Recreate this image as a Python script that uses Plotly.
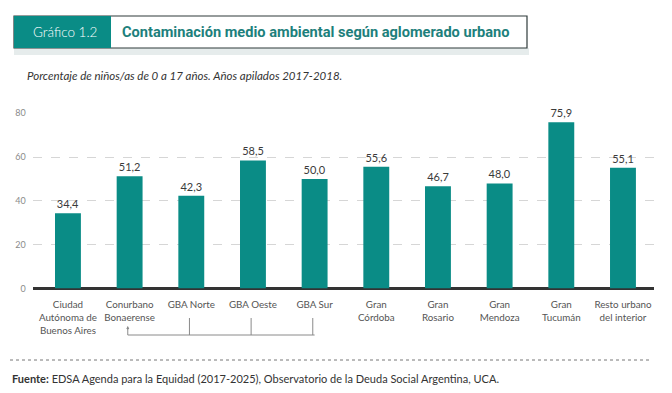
import plotly.graph_objects as go

categories = ["Ciudad<br>Autónoma de<br>Buenos Aires", "Conurbano<br>Bonaerense", "GBA Norte",
              "GBA Oeste", "GBA Sur", "Gran<br>Córdoba", "Gran<br>Rosario", "Gran<br>Mendoza",
              "Gran<br>Tucumán", "Resto urbano<br>del interior"]
values = [34.4, 51.2, 42.3, 58.5, 50.0, 55.6, 46.7, 48.0, 75.9, 55.1]
y_ticks = [0, 20, 40, 60, 80]

W, H = 672, 393
TEAL = "#0a8c86"

def px(x):
    return x / W

def py(y):
    return 1 - y / H

fig = go.Figure()
fig.add_trace(go.Bar(
    x=list(range(len(categories))), y=values, width=0.42,
    marker=dict(color=TEAL, line=dict(width=0)),
    texttemplate="%{y:.1f}", textposition="outside",
    textfont=dict(family="Lato", size=11, color="#3a3a3a"),
    cliponaxis=False, hoverinfo="skip",
))

fig.update_layout(
    width=W, height=H,
    margin=dict(l=0, r=0, t=0, b=0),
    paper_bgcolor="white", plot_bgcolor="white",
    separators=",.",
    showlegend=False,
    bargap=0.5,
    xaxis=dict(
        domain=[px(32.8), px(653.8)], range=[-0.57, 9.5],
        tickmode="array", tickvals=list(range(len(categories))), ticktext=categories,
        tickfont=dict(family="Lato", size=9.8, color="#555555"),
        showgrid=False, zeroline=False, showline=False, ticks="", automargin=False,
        ticklabelstandoff=9, fixedrange=True,
    ),
    yaxis=dict(
        domain=[py(288.5), py(113.3)], range=[0, 80],
        tickmode="array", tickvals=y_ticks,
        tickfont=dict(family="Lato", size=9, color="#8a8a8a"),
        showgrid=True, gridcolor="#d6d6d6", griddash="dash", gridwidth=1,
        zeroline=True, zerolinecolor="#333333", zerolinewidth=3,
        showline=False, ticks="", automargin=False, ticklabelstandoff=6,
        fixedrange=True,
    ),
)

HX0, HX1, HTEAL = 14, 527, 111
HY0, HY1 = 16, 48
shapes = []
# header shadow
shapes.append(dict(type="rect", xref="paper", yref="paper", x0=px(HX0), x1=px(HX1 + 2), y0=py(HY1 + 7), y1=py(HY1),
                   fillcolor="#e6ecec", line=dict(width=0), layer="below"))
# header white box with border
shapes.append(dict(type="rect", xref="paper", yref="paper", x0=px(HX0), x1=px(HX1), y0=py(HY1), y1=py(HY0),
                   fillcolor="white", line=dict(color="#2f3b3b", width=1.2)))
# teal tag
shapes.append(dict(type="rect", xref="paper", yref="paper", x0=px(HX0), x1=px(HTEAL), y0=py(HY1), y1=py(HY0),
                   fillcolor=TEAL, line=dict(width=0)))
# dotted separator
shapes.append(dict(type="line", xref="paper", yref="paper", x0=px(10), x1=px(652), y0=py(360), y1=py(360),
                   line=dict(color="#777777", width=1, dash="dot")))
# bracket linking Conurbano to its parts
bracket_y = py(335)
shapes.append(dict(type="line", xref="x", yref="paper", x0=1 - 0.03, x1=4, y0=bracket_y, y1=bracket_y,
                   line=dict(color="#8a8a8a", width=1)))
shapes.append(dict(type="line", xref="x", yref="paper", x0=1 - 0.03, x1=1 - 0.03, y0=bracket_y, y1=py(328),
                   line=dict(color="#8a8a8a", width=1)))
for i in [2, 3, 4]:
    shapes.append(dict(type="line", xref="x", yref="paper", x0=i - 0.03, x1=i - 0.03, y0=bracket_y, y1=py(318),
                       line=dict(color="#8a8a8a", width=1)))
fig.update_layout(shapes=shapes)

hy = (HY0 + HY1) / 2
annotations = [
    dict(text="Gráfico 1.2", xref="paper", yref="paper", x=px(31), y=py(hy), xanchor="left", yanchor="middle",
         showarrow=False, font=dict(family="Lato", size=13.5, color="white", weight=300)),
    dict(text="<b>Contaminación medio ambiental según aglomerado urbano</b>", xref="paper", yref="paper",
         x=px(120), y=py(hy), xanchor="left", yanchor="middle", showarrow=False,
         font=dict(family="Roboto", size=14.6, color="#1d807c")),
    dict(text="<i>Porcentaje de niños/as de 0 a 17 años. Años apilados 2017-2018.</i>", xref="paper", yref="paper",
         x=px(25), y=py(75), xanchor="left", yanchor="middle", showarrow=False,
         font=dict(family="Lato", size=11.5, color="#333333")),
    dict(text="<b>Fuente:</b> EDSA Agenda para la Equidad (2017-2025), Observatorio de la Deuda Social Argentina, UCA.",
         xref="paper", yref="paper", x=px(10), y=py(378), xanchor="left", yanchor="middle", showarrow=False,
         font=dict(family="Lato", size=11, color="#333333")),
    dict(text="", xref="x", yref="paper", x=1 - 0.03, y=py(326), ax=0, ay=5, showarrow=True,
         arrowhead=2, arrowsize=0.6, arrowwidth=1, arrowcolor="#8a8a8a"),
]
fig.update_layout(annotations=annotations)

fig.write_html("out.html", config={"displayModeBar": False},
               post_script="document.body.style.margin='0';document.body.style.overflow='hidden';")
